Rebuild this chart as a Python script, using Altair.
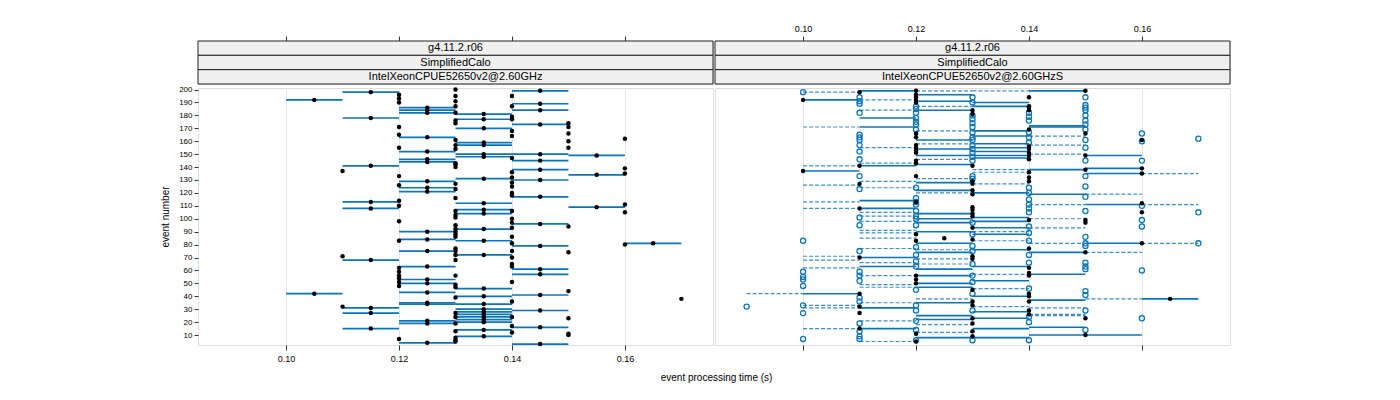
import altair as alt
import pandas as pd

# ---------------- data ----------------
X_TICKS = [0.10, 0.12, 0.14, 0.16]
Y_TICKS = list(range(10, 201, 10))
STRIP_LEFT = ["g4.11.2.r06", "SimplifiedCalo", "IntelXeonCPUE52650v2@2.60GHz"]
STRIP_RIGHT = ["g4.11.2.r06", "SimplifiedCalo", "IntelXeonCPUE52650v2@2.60GHzS"]

# left panel: (run_lo, run_hi, events) -> dot at mean, segment lo..hi
L_GROUPS = [
    (0.10, 0.11, [192, 42]),
    (0.11, 0.11, [137, 71, 32]),
    (0.11, 0.12, [198, 178, 141, 113, 108, 68, 31, 27, 15]),
    (0.12, 0.12, [196, 193, 190, 171, 165, 155, 133, 126, 114, 110, 98, 83, 62, 59, 56, 54, 51, 48, 7]),
    (0.12, 0.13, [186, 184, 182, 163, 152, 146, 144, 129, 124, 121, 90, 84, 75, 63, 53, 50, 43, 35, 34, 21, 19, 4]),
    (0.13, 0.13, [200, 195, 191, 187, 182, 176, 174, 161, 157, 154, 143, 142, 140, 127, 123, 116, 106, 103,
                  101, 95, 92, 90, 88, 86, 77, 75, 72, 68, 56, 49, 47, 39, 27, 24, 19, 13, 8, 6, 5]),
    (0.13, 0.14, [181, 177, 170, 159, 157, 150, 148, 131, 112, 107, 104, 92, 83, 72, 46, 40, 34, 30, 28, 26,
                  24, 22, 20, 14, 9]),
    (0.14, 0.14, [195, 187, 179, 177, 168, 164, 147, 136, 132, 128, 125, 120, 118, 106, 100, 97, 93, 86, 81,
                  75, 70, 65, 63, 51, 36, 24, 17, 12]),
    (0.14, 0.15, [199, 189, 184, 173, 150, 145, 138, 130, 117, 96, 79, 61, 57, 41, 29, 16, 3]),
    (0.15, 0.15, [174, 171, 166, 160, 155, 94, 74, 44, 23, 11, 10]),
    (0.15, 0.16, [149, 134, 109]),
    (0.16, 0.16, [162, 139, 135, 111, 105, 80]),
    (0.16, 0.17, [81]),
    (0.17, 0.17, [38]),
]

# right panel
R_FILLED = {
    0.10: [192, 137],
    0.11: [198, 141, 127, 108, 70, 42, 32, 27, 15],
    0.12: [199, 196, 194, 192, 190, 166, 163, 157, 155, 153, 151, 145, 143, 133, 113, 88, 83, 56, 53, 50, 11, 5],
    0.125: [85],
    0.13: [184, 181, 141, 129, 127, 122, 119, 109, 107, 104, 102, 93, 84, 71, 69, 45, 36, 33, 23, 19, 13, 9],
    0.14: [194, 187, 186, 184, 169, 156, 154, 151, 149, 146, 136, 132, 129, 99, 77, 62, 58, 56, 42, 40, 36, 29, 26],
    0.15: [199, 166, 149, 138, 99, 97, 74, 23, 10],
    0.16: [161, 139, 135, 112, 105, 81],
    0.165: [38],
}
R_OPEN = {
    0.09: [32],
    0.10: [198, 83, 59, 55, 53, 48, 33, 27, 7],
    0.11: [194, 191, 189, 182, 165, 163, 161, 157, 152, 146, 133, 123, 101, 95, 75, 59, 56, 52, 39, 36, 19, 13, 9, 7],
    0.12: [187, 185, 182, 178, 175, 173, 169, 124, 116, 113, 111, 106, 102, 100, 95, 78, 72, 67, 63, 45, 33, 29, 21, 14, 6],
    0.13: [194, 190, 180, 177, 174, 171, 167, 163, 161, 157, 154, 151, 148, 145, 133, 131, 97, 88, 79, 75, 65, 56, 51, 42, 29, 6],
    0.14: [182, 179, 176, 167, 163, 159, 124, 120, 115, 111, 108, 105, 94, 89, 83, 72, 66, 46, 24, 20, 6],
    0.15: [194, 188, 186, 184, 180, 176, 173, 169, 161, 155, 145, 133, 125, 117, 106, 86, 81, 79, 66, 63, 61, 44, 41, 29, 14],
    0.16: [166, 160, 145, 110, 99, 94, 60, 23],
    0.17: [162, 105, 81],
}
R_SOLID = [
    (0.10, 0.11, [192, 137, 42]),
    (0.11, 0.12, [199, 178, 171, 141, 114, 108, 70, 63, 31, 15]),
    (0.12, 0.13, [196, 191, 184, 161, 154, 149, 142, 128, 122, 104, 100, 97, 90, 81, 74, 61, 56, 50, 47, 35, 25, 22, 8]),
    (0.13, 0.14, [190, 187, 168, 164, 158, 155, 152, 149, 147, 120, 101, 98, 93, 88, 76, 63, 52, 40, 28, 23, 15, 8]),
    (0.14, 0.15, [199, 172, 171, 138, 119, 74, 57, 37, 16, 10]),
    (0.15, 0.16, [149, 139, 135, 111, 81, 10]),
    (0.16, 0.17, [38]),
]
R_DASHED = [
    (0.09, 0.10, [42]),
    (0.10, 0.11, [198, 171, 141, 126, 113, 108, 71, 68, 62, 33, 31, 15]),
    (0.11, 0.12, [192, 184, 155, 143, 129, 124, 105, 102, 98, 91, 89, 85, 77, 70, 66, 56, 49, 47, 35, 21, 5]),
    (0.12, 0.13, [199, 187, 168, 158, 146, 131, 120, 76, 69, 65, 38, 18, 12]),
    (0.13, 0.14, [199, 138, 136, 127, 90, 83, 57, 46, 32]),
    (0.14, 0.15, [164, 157, 150, 111, 100, 93, 81, 31, 26, 25]),
    (0.15, 0.16, [119, 74, 38]),
    (0.16, 0.17, [135, 111, 81]),
]

X_DOMAIN = [0.0844, 0.1756]
Y_DOMAIN = [2.3, 201.2]

# ---------------- tables ----------------
l_pts = pd.DataFrame([{"event": e, "t": (lo + hi) / 2} for lo, hi, ev in L_GROUPS for e in ev])
l_seg = pd.DataFrame([{"event": e, "lo": lo, "hi": hi} for lo, hi, ev in L_GROUPS if hi > lo for e in ev])
r_fill = pd.DataFrame([{"event": e, "t": t} for t, ev in R_FILLED.items() for e in ev])
r_open = pd.DataFrame([{"event": e, "t": t} for t, ev in R_OPEN.items() for e in ev])
r_solid = pd.DataFrame([{"event": e, "lo": lo, "hi": hi} for lo, hi, ev in R_SOLID for e in ev])
r_dash = pd.DataFrame([{"event": e, "lo": lo, "hi": hi} for lo, hi, ev in R_DASHED for e in ev])

W, H, SH = 515, 257, 43
BLUE = "#0c75b8"
FONT = "Liberation Sans"

xscale = alt.Scale(domain=X_DOMAIN, nice=False, zero=False)
yscale = alt.Scale(domain=Y_DOMAIN, nice=False, zero=False)


def xaxis(labels):
    return alt.Axis(values=X_TICKS, format=".2f", labels=labels, title=None, grid=True,
                    gridColor="#e6e6e6", domain=False, tickColor="#333", tickSize=5,
                    labelFontSize=9, labelFont=FONT, labelColor="#000", labelPadding=4,
                    tickCount=10)


yaxis_left = alt.Axis(values=Y_TICKS, tickCount=40, title="event number", grid=False, domain=False,
                      tickColor="#333", tickSize=4, labelFontSize=8, labelFont=FONT,
                      labelColor="#000", labelPadding=2, labelOverlap=False,
                      titleFont=FONT, titleFontSize=10,
                      titleFontWeight="normal", titlePadding=8, titleColor="#000")

# left plot
l_rules = alt.Chart(l_seg).mark_rule(color=BLUE, strokeWidth=1.7).encode(
    x=alt.X("lo:Q", scale=xscale, axis=xaxis(True)),
    x2="hi:Q",
    y=alt.Y("event:Q", scale=yscale, axis=yaxis_left),
)
l_dots = alt.Chart(l_pts).mark_circle(color="#000", size=20, opacity=1).encode(
    x=alt.X("t:Q", scale=xscale), y=alt.Y("event:Q", scale=yscale)
)
plot_left = alt.layer(l_rules, l_dots).properties(width=W, height=H)

# right plot
r_d = alt.Chart(r_dash).mark_rule(color="#3d8fc8", strokeWidth=1.2, strokeDash=[4, 2]).encode(
    x=alt.X("lo:Q", scale=xscale, axis=xaxis(False)),
    x2="hi:Q",
    y=alt.Y("event:Q", scale=yscale, axis=None),
)
r_s = alt.Chart(r_solid).mark_rule(color=BLUE, strokeWidth=1.6).encode(
    x=alt.X("lo:Q", scale=xscale), x2="hi:Q", y=alt.Y("event:Q", scale=yscale)
)
r_o = alt.Chart(r_open).mark_point(shape="circle", color=BLUE, filled=False, size=26,
                                   strokeWidth=1.3, opacity=1).encode(
    x=alt.X("t:Q", scale=xscale), y=alt.Y("event:Q", scale=yscale)
)
r_f = alt.Chart(r_fill).mark_circle(color="#000", size=20, opacity=1).encode(
    x=alt.X("t:Q", scale=xscale), y=alt.Y("event:Q", scale=yscale)
)
plot_right = alt.layer(r_d, r_s, r_o, r_f).properties(width=W, height=H)


# strips
def strip(labels, show_labels):
    df = pd.DataFrame({"row": [0, 1, 2], "label": labels,
                       "x0": [X_DOMAIN[0]] * 3, "x1": [X_DOMAIN[1]] * 3})
    ys = alt.Scale(domain=[0, 1, 2], paddingInner=0, paddingOuter=0)
    rect = alt.Chart(df).mark_rect(fill="#f0f0f0", stroke="#222", strokeWidth=1).encode(
        x=alt.X("x0:Q", scale=xscale,
                axis=alt.Axis(orient="top", values=X_TICKS, format=".2f", labels=show_labels,
                              title=None, grid=False, domain=False, tickColor="#333", tickSize=5,
                              labelFontSize=9, labelFont=FONT, labelColor="#000", labelPadding=3,
                              tickCount=10)),
        x2="x1:Q",
        y=alt.Y("row:O", scale=ys, axis=None),
    )
    txt = alt.Chart(df).mark_text(font=FONT, fontSize=11, color="#000", baseline="middle",
                                  align="center").encode(
        x=alt.value(W / 2), y=alt.Y("row:O", scale=ys, axis=None), text="label:N"
    )
    return alt.layer(rect, txt).properties(width=W, height=SH)


chart = alt.concat(
    strip(STRIP_LEFT, False), strip(STRIP_RIGHT, True), plot_left, plot_right,
    columns=2, spacing=0,
).properties(
    padding={"left": 152, "top": 15, "right": 5, "bottom": 5},
    title=alt.TitleParams("event processing time (s)", orient="bottom", anchor="middle",
                          fontSize=10, fontWeight="normal", font=FONT, color="#000",
                          offset=9, dx=21),
).configure_view(stroke="#222", strokeWidth=1).configure(background="white")

chart.save("out.html", embed_options={"renderer": "svg", "actions": False})
